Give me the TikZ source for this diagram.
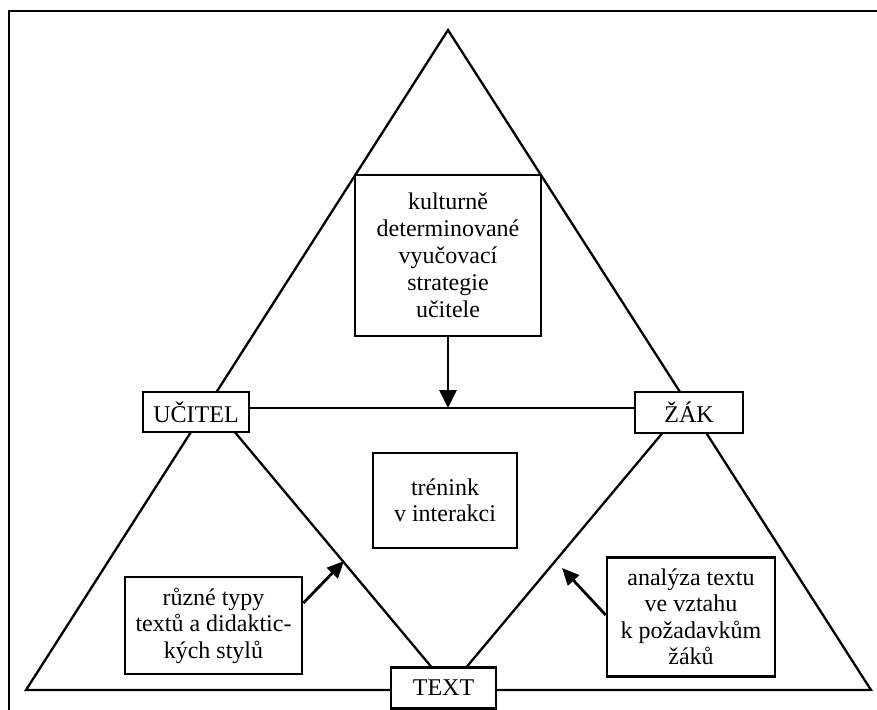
\documentclass[tikz,border=0pt]{standalone}
\usepackage{fontspec}
\setmainfont{Liberation Serif}
\usetikzlibrary{arrows.meta,calc}
\begin{document}
\begin{tikzpicture}[x=1pt,y=-1pt,
  tri/.style={line width=2.3pt,line join=miter},
  box/.style={draw,line width=2.7pt,fill=white,align=center,inner sep=0pt,
    font=\fontsize{24}{26.5}\selectfont},
  arr/.style={line width=2.8pt,-{Triangle[length=17pt,width=15pt]}}]
\useasboundingbox (0,0) rectangle (877,709);
% frame (cut by the picture edge)
\coordinate (fb) at (9,712);
\coordinate (fc) at (9,11);
\coordinate (fr) at (880,11);
\draw[line width=2.6pt] (fb) -- (fc) -- (fr);
% big triangle
\coordinate (apex) at (448,30);
\coordinate (bl) at (26,690);
\coordinate (br) at (871,690);
\draw[tri] (bl) -- (apex) -- (br) -- cycle;
% inner triangle
\coordinate (ul) at (218,412);
\coordinate (ur) at (680,412);
\coordinate (ti) at (449,688);
\draw[tri] (ul) -- (ti) -- (ur);
\coordinate (hl) at (448,408);
% boxes
\node[box,minimum width=186pt,minimum height=161pt,
  font=\fontsize{24}{27}\selectfont] (top) at (448,255.5)
  {kulturně\\determinované\\vyučovací\\strategie\\učitele};
\node[box,minimum width=106pt,minimum height=40pt] (uc) at (196,412) {UČITEL};
\node[box,minimum width=108pt,minimum height=41pt] (zak) at (689,412.5) {ŽÁK};
\node[box,minimum width=105pt,minimum height=41pt] (tx) at (443.5,688) {TEXT};
\node[box,minimum width=144pt,minimum height=95pt] (tr) at (445,500.5)
  {trénink\\v interakci};
\node[box,minimum width=177pt,minimum height=97pt] (lb) at (213.5,625.5)
  {různé typy\\textů a didaktic-\\kých stylů};
\node[box,minimum width=168pt,minimum height=119pt] (rb) at (691,617)
  {analýza textu\\ve vztahu\\k požadavkům\\žáků};
% connectors
\draw[tri] (uc.east |- hl) -- (zak.west |- hl);
\draw[arr,-{Triangle[length=18pt,width=17pt]}] (top.south) -- (top.south |- hl);
\coordinate (la) at (344,561);
\coordinate (ra) at (562,568);
\draw[arr] (lb.east |- 0,603) -- (la);
\draw[arr] (rb.west |- 0,615) -- (ra);
\end{tikzpicture}
\end{document}
